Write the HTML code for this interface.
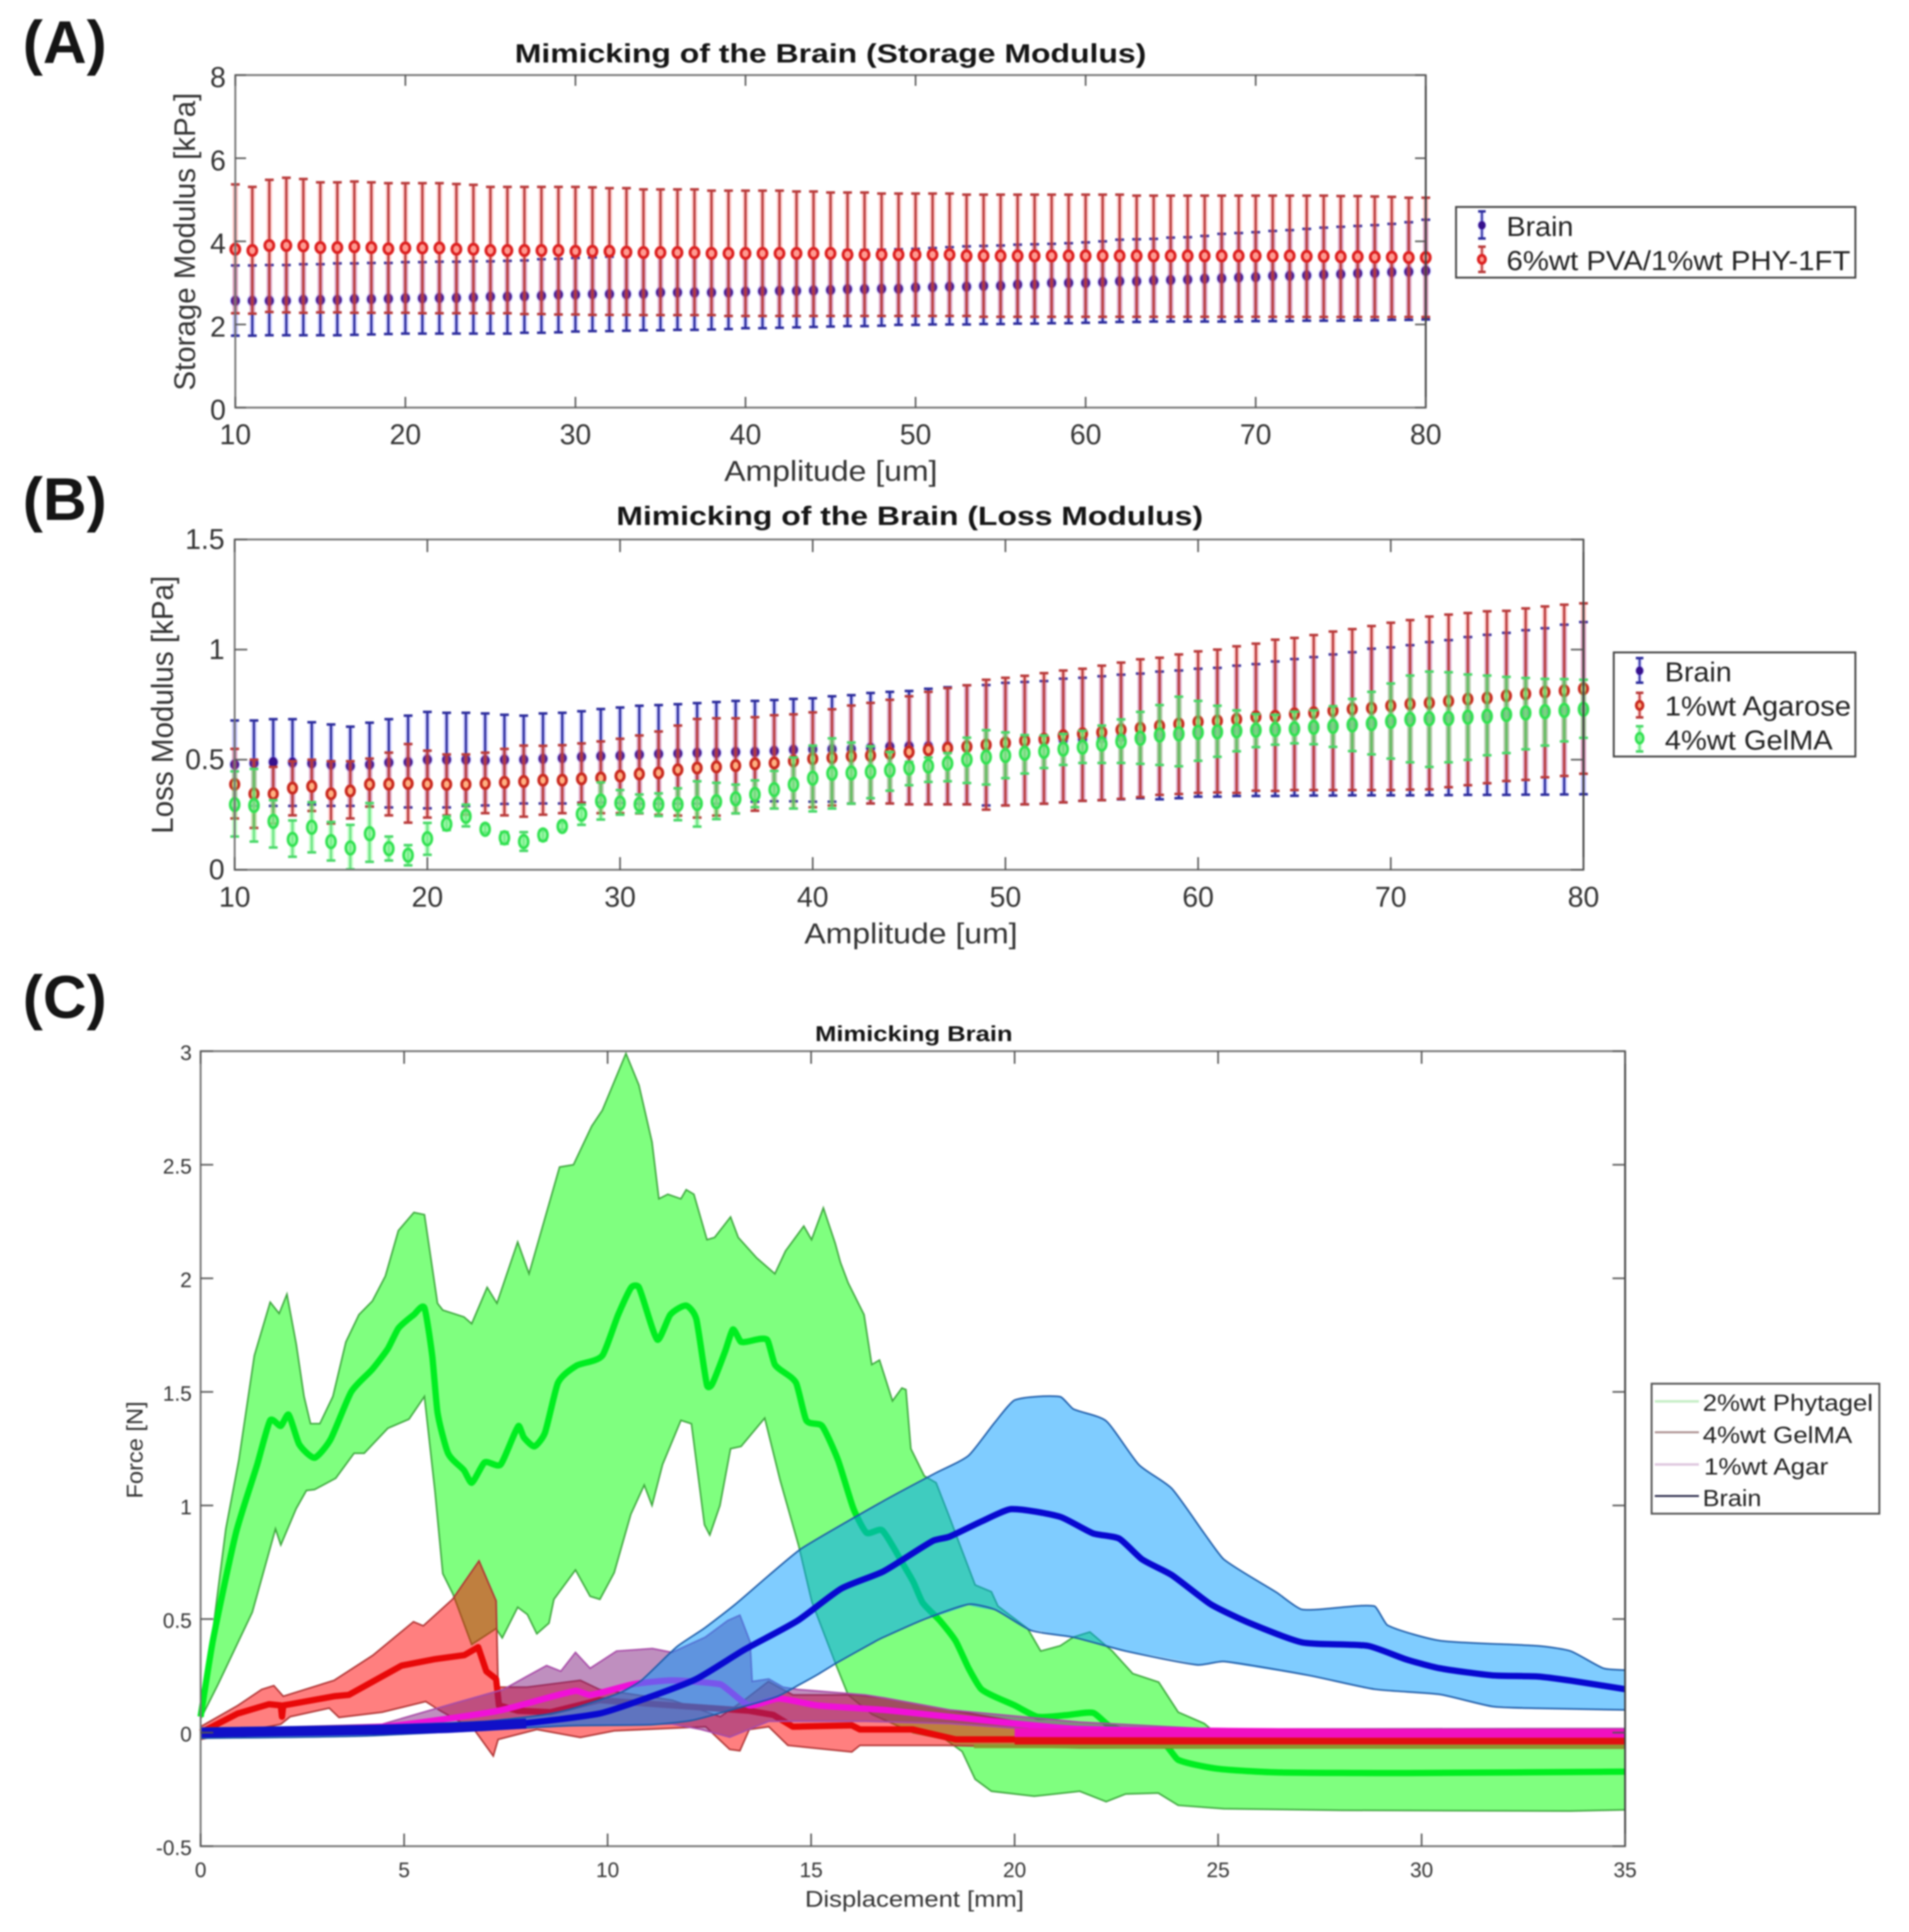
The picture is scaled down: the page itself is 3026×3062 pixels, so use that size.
<!DOCTYPE html>
<html lang="en">
<head>
<meta charset="utf-8">
<title>Mimicking of the Brain</title>
<style>
html,body{margin:0;padding:0;background:#fff;}
svg{display:block;filter:blur(1.3px);font-family:"Liberation Sans",sans-serif;}
</style>
</head>
<body>
<svg id="figure" xmlns="http://www.w3.org/2000/svg" width="3026" height="3062" viewBox="0 0 3026 3062">
<rect x="0" y="0" width="3026" height="3062" fill="#ffffff"/>

<text x="36" y="100" font-size="96" font-weight="700" fill="#151515">(A)</text>
<text x="36" y="824" font-size="96" font-weight="700" fill="#151515">(B)</text>
<text x="36" y="1613" font-size="96" font-weight="700" fill="#151515">(C)</text>

<g id="chart-a">
<text x="816" y="99" font-size="42" font-weight="700" fill="#151515" textLength="1001" lengthAdjust="spacingAndGlyphs">Mimicking of the Brain (Storage Modulus)</text>
<text x="1148" y="762" font-size="45" fill="#333" textLength="338" lengthAdjust="spacingAndGlyphs">Amplitude [um]</text>
<text transform="translate(309,383) rotate(-90)" text-anchor="middle" font-size="47" fill="#333" textLength="472" lengthAdjust="spacingAndGlyphs">Storage Modulus [kPa]</text>
</g>

<g id="chart-b">
<text x="977" y="832" font-size="42" font-weight="700" fill="#151515" textLength="930" lengthAdjust="spacingAndGlyphs">Mimicking of the Brain (Loss Modulus)</text>
<text x="1275" y="1495" font-size="45" fill="#333" textLength="338" lengthAdjust="spacingAndGlyphs">Amplitude [um]</text>
<text transform="translate(274,1117) rotate(-90)" text-anchor="middle" font-size="48" fill="#333" textLength="409" lengthAdjust="spacingAndGlyphs">Loss Modulus [kPa]</text>
</g>

<g id="chart-c">
<text x="1292" y="1650" font-size="34" font-weight="700" fill="#151515" textLength="313" lengthAdjust="spacingAndGlyphs">Mimicking Brain</text>
<text x="1276" y="3022" font-size="36" fill="#333" textLength="347" lengthAdjust="spacingAndGlyphs">Displacement [mm]</text>
<text transform="translate(226,2298) rotate(-90)" text-anchor="middle" font-size="36" fill="#333" textLength="154" lengthAdjust="spacingAndGlyphs">Force [N]</text>
</g>

<g id="legend-a">
<rect x="2308" y="328" width="633" height="112" fill="#fff" stroke="#444" stroke-width="3"/>
<text x="2388" y="374" font-size="44" fill="#222" textLength="106" lengthAdjust="spacingAndGlyphs">Brain</text>
<text x="2388" y="428" font-size="44" fill="#222" textLength="545" lengthAdjust="spacingAndGlyphs">6%wt PVA/1%wt PHY-1FT</text>
</g>

<g id="legend-b">
<rect x="2558" y="1034" width="383" height="165" fill="#fff" stroke="#444" stroke-width="3"/>
<text x="2639" y="1080" font-size="44" fill="#222" textLength="106" lengthAdjust="spacingAndGlyphs">Brain</text>
<text x="2639" y="1134" font-size="44" fill="#222" textLength="295" lengthAdjust="spacingAndGlyphs">1%wt Agarose</text>
<text x="2639" y="1188" font-size="44" fill="#222" textLength="266" lengthAdjust="spacingAndGlyphs">4%wt GelMA</text>
</g>

<g id="legend-c">
<rect x="2618" y="2193" width="361" height="206" fill="#fff" stroke="#555" stroke-width="3"/>
<line x1="2623" x2="2693" y1="2221" y2="2221" stroke="#c6eec6" stroke-width="4"/>
<line x1="2623" x2="2693" y1="2270" y2="2270" stroke="#a98d8d" stroke-width="3"/>
<line x1="2623" x2="2693" y1="2321" y2="2321" stroke="#e0c8e0" stroke-width="4"/>
<line x1="2623" x2="2693" y1="2371" y2="2371" stroke="#2a2a4a" stroke-width="3"/>
<text x="2699" y="2236" font-size="37" fill="#222" textLength="270" lengthAdjust="spacingAndGlyphs">2%wt Phytagel</text>
<text x="2699" y="2287" font-size="37" fill="#222" textLength="237" lengthAdjust="spacingAndGlyphs">4%wt GelMA</text>
<text x="2701" y="2337" font-size="37" fill="#222" textLength="197" lengthAdjust="spacingAndGlyphs">1%wt Agar</text>
<text x="2699" y="2387" font-size="37" fill="#222" textLength="93" lengthAdjust="spacingAndGlyphs">Brain</text>
</g>
</svg>

<script>
/* ===== Shared x categories for panels A and B (amplitude, um) ===== */
const amplitudes = [10,11,12,13,14,15,16,17,18,19,20,21,22,23,24,25,26,27,28,29,30,31,32,33,34,35,36,37,38,39,40,41,42,43,44,45,46,47,48,49,50,51,52,53,54,55,56,57,58,59,60,61,62,63,64,65,66,67,68,69,70,71,72,73,74,75,76,77,78,79,80];

/* ===== Panel A: storage modulus ===== */
const storageXTicks = [10,20,30,40,50,60,70,80];
const storageYTicks = [0,2,4,6,8];
const storageBrainMean = [2.57,2.57,2.57,2.57,2.59,2.59,2.59,2.61,2.61,2.62,2.63,2.63,2.64,2.64,2.65,2.67,2.67,2.68,2.69,2.72,2.72,2.73,2.73,2.73,2.74,2.77,2.77,2.77,2.77,2.77,2.79,2.80,2.81,2.81,2.82,2.83,2.85,2.85,2.86,2.86,2.89,2.90,2.91,2.91,2.93,2.93,2.96,2.96,3.00,3.00,3.00,3.02,3.04,3.04,3.06,3.07,3.08,3.10,3.11,3.13,3.14,3.17,3.17,3.18,3.20,3.21,3.23,3.24,3.26,3.27,3.29];
const storageBrainUpper = [3.42,3.42,3.43,3.43,3.45,3.45,3.47,3.47,3.48,3.48,3.50,3.50,3.51,3.51,3.52,3.52,3.53,3.54,3.57,3.58,3.60,3.61,3.63,3.65,3.66,3.67,3.68,3.69,3.70,3.71,3.72,3.73,3.74,3.75,3.76,3.77,3.78,3.79,3.80,3.81,3.82,3.84,3.86,3.88,3.89,3.90,3.92,3.93,3.94,3.955,3.975,4.00,4.04,4.05,4.06,4.09,4.10,4.13,4.18,4.20,4.22,4.25,4.27,4.30,4.33,4.35,4.37,4.39,4.42,4.46,4.52];
const storageBrainLower = [1.73,1.73,1.74,1.74,1.74,1.74,1.74,1.75,1.76,1.77,1.78,1.78,1.78,1.78,1.78,1.78,1.78,1.80,1.80,1.81,1.83,1.84,1.84,1.85,1.86,1.86,1.87,1.87,1.88,1.89,1.91,1.91,1.92,1.93,1.94,1.95,1.96,1.96,1.97,1.99,1.99,2.00,2.00,2.00,2.01,2.01,2.02,2.02,2.03,2.03,2.04,2.05,2.06,2.06,2.07,2.07,2.07,2.07,2.07,2.07,2.08,2.08,2.08,2.09,2.09,2.09,2.10,2.10,2.11,2.11,2.12];
const storagePvaMean = [3.81,3.78,3.90,3.90,3.89,3.85,3.85,3.87,3.85,3.82,3.84,3.84,3.84,3.81,3.81,3.78,3.78,3.78,3.78,3.78,3.76,3.76,3.76,3.74,3.73,3.73,3.73,3.73,3.71,3.71,3.71,3.71,3.71,3.71,3.71,3.71,3.68,3.68,3.68,3.68,3.68,3.68,3.68,3.65,3.65,3.65,3.65,3.65,3.65,3.65,3.65,3.65,3.65,3.65,3.65,3.65,3.65,3.65,3.65,3.65,3.65,3.65,3.65,3.64,3.64,3.63,3.63,3.62,3.62,3.61,3.61];
const storagePvaUpper = [5.37,5.31,5.48,5.53,5.50,5.42,5.42,5.44,5.42,5.40,5.40,5.40,5.40,5.38,5.36,5.31,5.31,5.31,5.31,5.31,5.31,5.30,5.28,5.28,5.25,5.25,5.25,5.25,5.22,5.22,5.22,5.22,5.22,5.20,5.20,5.175,5.175,5.175,5.15,5.15,5.15,5.15,5.15,5.124,5.124,5.124,5.124,5.124,5.124,5.124,5.124,5.124,5.124,5.10,5.10,5.10,5.10,5.10,5.10,5.10,5.10,5.10,5.10,5.10,5.10,5.09,5.09,5.08,5.07,5.05,5.05];
const storagePvaLower = [2.27,2.26,2.30,2.29,2.28,2.29,2.29,2.28,2.28,2.28,2.28,2.27,2.27,2.27,2.27,2.27,2.27,2.25,2.25,2.24,2.24,2.23,2.23,2.23,2.225,2.225,2.225,2.225,2.225,2.204,2.204,2.204,2.204,2.204,2.204,2.204,2.204,2.204,2.204,2.204,2.204,2.204,2.204,2.204,2.184,2.184,2.184,2.184,2.184,2.184,2.184,2.184,2.184,2.184,2.184,2.184,2.184,2.184,2.184,2.184,2.184,2.184,2.184,2.18,2.18,2.18,2.18,2.18,2.18,2.18,2.18];

/* ===== Panel B: loss modulus ===== */
const lossXTicks = [10,20,30,40,50,60,70,80];
const lossYTicks = [0,0.5,1,1.5];
const lossBrainMean = [.478,.484,.489,.487,.483,.478,.471,.478,.487,.489,.50,.50,.50,.497,.50,.50,.504,.507,.513,.516,.518,.523,.526,.528,.531,.531,.535,.535,.54,.545,.547,.548,.549,.554,.559,.561,.561,.561,.561,.568,.576,.583,.586,.59,.593,.597,.602,.602,.612,.618,.621,.626,.631,.634,.636,.64,.647,.651,.658,.664,.674,.683,.686,.687,.693,.697,.705,.712,.718,.724,.729];
const lossBrainUpper = [.678,.678,.684,.684,.67,.66,.65,.668,.684,.70,.717,.713,.713,.71,.704,.70,.71,.713,.72,.73,.737,.745,.748,.752,.757,.762,.767,.767,.771,.776,.779,.788,.793,.803,.808,.812,.822,.829,.838,.839,.849,.853,.857,.868,.872,.879,.886,.891,.90,.905,.913,.917,.927,.934,.946,.957,.966,.978,.988,1.004,1.01,1.02,1.034,1.043,1.057,1.067,1.076,1.088,1.097,1.113,1.125];
const lossBrainLower = [.28,.29,.29,.29,.296,.29,.29,.287,.283,.283,.279,.283,.29,.292,.299,.301,.301,.301,.305,.305,.303,.30,.30,.30,.30,.30,.305,.309,.311,.311,.309,.309,.301,.301,.301,.297,.297,.297,.297,.292,.292,.297,.30,.306,.313,.316,.32,.325,.32,.325,.332,.332,.335,.335,.335,.336,.337,.337,.338,.338,.338,.338,.339,.339,.34,.34,.34,.341,.341,.342,.343];
const lossAgaroseMean = [.388,.345,.345,.371,.379,.345,.358,.388,.389,.392,.389,.388,.388,.392,.397,.401,.407,.407,.413,.417,.426,.435,.44,.454,.462,.467,.473,.481,.485,.494,.504,.509,.516,.519,.529,.535,.545,.552,.559,.567,.576,.586,.593,.609,.618,.624,.636,.643,.653,.662,.672,.676,.683,.695,.697,.708,.713,.722,.73,.734,.745,.753,.758,.766,.775,.78,.79,.799,.807,.813,.822];
const lossAgaroseUpper = [.549,.50,.467,.493,.50,.493,.493,.505,.532,.571,.541,.524,.524,.532,.549,.564,.563,.566,.574,.583,.595,.61,.628,.655,.685,.688,.688,.693,.702,.706,.715,.729,.746,.758,.772,.788,.808,.825,.838,.863,.872,.881,.893,.905,.913,.927,.941,.956,.963,.978,.992,1.0,1.015,1.027,1.045,1.053,1.066,1.082,1.093,1.107,1.122,1.134,1.15,1.159,1.166,1.174,1.176,1.187,1.196,1.204,1.21];
const lossAgaroseLower = [.233,.19,.21,.247,.267,.21,.233,.287,.247,.214,.237,.247,.25,.257,.247,.241,.25,.257,.303,.257,.257,.256,.249,.246,.237,.246,.256,.268,.278,.278,.284,.292,.30,.301,.301,.297,.297,.297,.297,.273,.292,.297,.30,.306,.313,.316,.322,.33,.34,.344,.349,.351,.349,.359,.358,.362,.362,.362,.362,.362,.362,.364,.365,.375,.384,.393,.403,.408,.42,.426,.436];
const lossGelmaMean = [.296,.292,.22,.138,.193,.128,.099,.164,.096,.066,.141,.207,.243,.184,.145,.128,.158,.197,.253,.312,.303,.297,.297,.297,.301,.309,.322,.342,.364,.387,.416,.438,.44,.445,.452,.462,.471,.483,.50,.512,.519,.529,.538,.548,.557,.571,.583,.597,.612,.617,.624,.626,.631,.634,.637,.64,.647,.651,.658,.664,.674,.683,.686,.687,.693,.697,.705,.712,.718,.724,.729];
const lossGelmaUpper = [.447,.458,.316,.224,.307,.217,.204,.303,.151,.112,.213,.243,.296,.204,.171,.171,.178,.214,.296,.397,.362,.342,.347,.37,.402,.395,.387,.406,.449,.51,.564,.597,.578,.561,.535,.49,.51,.53,.60,.634,.624,.612,.61,.617,.631,.655,.683,.717,.748,.786,.767,.745,.724,.707,.704,.718,.724,.743,.776,.808,.846,.882,.90,.897,.887,.882,.876,.871,.867,.866,.863];
const lossGelmaLower = [.151,.128,.101,.059,.079,.042,.002,.036,.042,.02,.068,.18,.197,.168,.118,.086,.134,.182,.204,.228,.25,.258,.244,.225,.196,.23,.256,.284,.278,.278,.265,.278,.30,.325,.359,.384,.399,.402,.394,.387,.416,.437,.462,.476,.485,.485,.485,.481,.476,.47,.495,.513,.538,.557,.568,.574,.57,.558,.539,.524,.505,.488,.467,.488,.499,.52,.53,.547,.564,.583,.599];

/* ===== Panel C: force vs displacement, shaded bands with mean lines ===== */
const forceXTicks = [0,5,10,15,20,25,30,35];
const forceYTicks = [-0.5,0,0.5,1,1.5,2,2.5,3];

const phytagelUpperX = [0,.27,.62,.94,1.32,1.71,1.93,2.12,2.35,2.54,2.70,2.93,3.25,3.57,3.89,4.22,4.54,4.86,5.24,5.50,5.82,5.95,6.47,6.66,7.04,7.28,7.79,8.07,8.82,9.16,9.61,9.87,10.45,10.77,11.09,11.26,11.48,11.80,11.93,12.12,12.44,12.63,13.02,13.21,13.66,14.11,14.37,14.82,15.01,15.30,15.59,15.72,15.91,16.30,16.49,16.68,17.0,17.23,17.33,17.45,17.78,18.07,18.39,18.71,19.03,19.43,19.59,20.32,20.64,21.12,21.44,21.85,22.4,22.9,23.54,24.02,24.66,24.82,25.5,35];
const phytagelUpperY = [.10,.405,.897,1.2,1.66,1.895,1.845,1.93,1.71,1.48,1.36,1.36,1.48,1.72,1.84,1.90,2.01,2.21,2.29,2.28,1.89,1.86,1.83,1.80,1.96,1.89,2.16,2.02,2.49,2.50,2.67,2.74,2.99,2.85,2.60,2.35,2.37,2.35,2.39,2.37,2.17,2.18,2.27,2.18,2.09,2.02,2.12,2.23,2.17,2.31,2.155,2.07,1.98,1.84,1.62,1.64,1.46,1.517,1.51,1.25,1.13,1.10,.953,.80,.65,.62,.557,.458,.359,.382,.42,.443,.359,.26,.222,.09,.04,.016,-.02,-.03];
const phytagelLowerX = [0,.43,1.27,1.84,1.97,2.35,2.6,2.8,3.32,3.77,4.02,4.6,5.12,5.5,5.76,5.95,6.2,6.66,7.26,7.41,7.79,8.03,8.26,8.56,8.68,9.21,9.57,9.81,10.16,10.57,10.9,11.09,11.35,11.8,12.06,12.38,12.51,12.76,13.02,13.28,13.86,14.24,14.69,15.02,15.62,15.91,16.5,17.5,18.3,18.71,19.03,19.43,20.48,21.6,22.25,22.73,23.53,24.02,25.14,28.04,33.66,35];
const phytagelLowerY = [.06,.213,.53,.897,.826,.987,1.066,1.07,1.12,1.23,1.23,1.34,1.38,1.48,1.06,.70,.61,.388,.458,.417,.552,.52,.435,.482,.587,.716,.60,.587,.704,.961,1.09,1.0,1.18,1.375,1.36,.915,.87,1.0,1.25,1.26,1.385,1.11,.826,.575,.295,.166,.08,.0,-.03,-.083,-.205,-.258,-.28,-.258,-.304,-.27,-.266,-.32,-.335,-.342,-.345,-.34];
const phytagelMeanX = [0,.3,.87,1.39,1.71,1.97,2.16,2.42,2.8,3.19,3.7,4.22,4.6,4.86,5.24,5.5,5.69,5.82,6.08,6.47,6.66,6.98,7.37,7.81,7.94,8.2,8.46,8.78,9.23,9.87,10.26,10.58,10.77,11.22,11.54,11.93,12.18,12.44,12.57,12.89,13.08,13.28,13.92,14.11,14.63,14.88,15.27,15.66,16.04,16.36,16.75,17.33,17.52,17.74,18.15,18.55,18.87,19.19,20,20.56,21.28,21.93,22.33,23.7,24.02,24.98,26.43,29.64,35];
const phytagelMeanY = [.07,.405,.88,1.18,1.375,1.35,1.40,1.27,1.21,1.29,1.5,1.60,1.69,1.78,1.84,1.87,1.66,1.41,1.23,1.155,1.10,1.19,1.18,1.35,1.30,1.26,1.32,1.54,1.615,1.66,1.84,1.96,1.96,1.73,1.84,1.88,1.82,1.53,1.535,1.68,1.775,1.72,1.73,1.62,1.54,1.375,1.35,1.2,.986,.88,.89,.72,.66,.572,.496,.404,.283,.19,.12,.07,.077,.087,.03,-.053,-.12,-.159,-.175,-.178,-.172];

const gelmaUpperX = [0,.91,1.5,1.8,2.03,3.28,4.23,5.23,5.47,6.19,6.84,7.26,7.31,8.02,9.33,9.8,11.58,12.77,13.36,13.95,14.55,16.09,16.78,18.39,20,22,35];
const gelmaUpperY = [.026,.119,.19,.207,.16,.23,.34,.488,.47,.587,.756,.58,.2,.2,.23,.19,.143,.07,.143,.225,.166,.166,.153,.10,.05,.0,-.01];
const gelmaLowerX = [0,1.97,2.2,3.16,3.4,4.46,5.53,5.89,6.72,7.19,7.31,8.26,9.33,10.16,12.41,13,13.25,13.48,13.96,14.43,16.0,16.2,18.32,21.6,35];
const gelmaLowerY = [-.03,.037,.07,.108,.067,.09,.137,.096,.014,-.103,-.03,.014,-.021,.008,.026,-.074,-.08,.014,.026,-.056,-.085,-.056,-.056,-.067,-.068];
const gelmaMeanX = [0,.91,1.68,1.97,2.0,2.03,2.2,3.28,3.64,4.94,5.77,6.48,6.82,7.02,7.26,7.33,7.8,8.6,9.8,11.58,13.48,14.07,14.55,16,16.2,17.5,18.55,21.6,35];
const gelmaMeanY = [0,.084,.125,.12,.07,.12,.125,.16,.166,.295,.324,.341,.376,.27,.236,.12,.096,.09,.143,.12,.096,.078,.026,.032,.014,.014,-.03,-.03,-.03];
const gelmaNoiseX = [19,27,35];
const gelmaNoiseY = [-.06,-.062,-.062];
const gelmaTailX = [20,28,35];
const gelmaTailY = [-.033,-.033,-.033];

const agarUpperX = [0,4.46,6.25,7.44,8.02,8.5,8.85,9.21,9.57,10.22,11.1,11.58,12.4,12.95,13.25,13.5,13.55,13.96,14.31,14.67,16.33,16.78,18.39,21.6,24.8,35];
const agarUpperY = [.014,.037,.13,.19,.248,.295,.27,.353,.283,.359,.37,.353,.42,.493,.517,.40,.225,.236,.20,.19,.166,.153,.10,.046,.016,.018];
const agarLowerX = [0,6.84,11.58,12.3,13,13.96,16.33,18.4,21.6,35];
const agarLowerY = [-.01,.026,.038,.014,-.02,.05,.05,.04,.0,-.015];
const agarMeanX = [0,4.46,7.31,9.21,9.57,10.63,11.58,12.77,12.95,13.48,14.2,15.14,16.78,18.39,21.6,35];
const agarMeanY = [0,.026,.096,.184,.166,.213,.23,.213,.19,.12,.15,.12,.10,.07,.016,-.004];
const agarTailX = [20,28,35];
const agarTailY = [.0,-.003,-.003];

const brainForceUpperX = [0,4,7,8.5,9.02,9.53,10.3,10.83,11.7,12.38,13.13,13.96,14.76,16.78,18.07,18.87,19.51,20,21.12,21.44,22.25,23.05,23.86,24.66,25.14,26.43,27.07,28.84,29.16,30.45,32.86,33.66,34.47,35];
const brainForceUpperY = [.02,.03,.05,.08,.10,.128,.175,.23,.378,.46,.564,.692,.81,1.02,1.144,1.22,1.365,1.464,1.479,1.425,1.372,1.18,1.075,.877,.763,.618,.542,.557,.473,.405,.382,.359,.283,.275];
const brainForceLowerX = [0,4,9.02,11.09,12.07,13.16,14.18,14.7,15.2,15.62,16.56,16.78,17.74,18.87,19.51,20.4,21.44,22.73,24.5,25.14,27.23,28.84,30.45,31.74,32.86,35];
const brainForceLowerY = [-.025,-.015,.03,.035,.054,.106,.16,.21,.26,.306,.40,.42,.496,.565,.542,.45,.42,.359,.298,.313,.252,.191,.168,.115,.107,.10];
const brainForceMeanX = [0,4.46,7.43,9.8,10.99,12.18,13.36,14.67,15.74,16.78,17.99,18.39,19.19,19.92,21.12,21.93,22.57,23.13,23.86,24.82,25.79,27.07,28.68,29.64,30.45,31.74,32.86,33.66,35];
const brainForceMeanY = [0,.014,.032,.084,.154,.236,.365,.493,.634,.71,.844,.862,.93,.984,.95,.877,.854,.763,.694,.565,.481,.397,.382,.321,.283,.252,.247,.229,.191];
const brainStartX = [0,3,6,8];
const brainStartY = [0,.008,.02,.04];

/* ===== Helpers ===== */
const SVGNS = 'http://www.w3.org/2000/svg';
function make(tag, attrs, parent){
  const el = document.createElementNS(SVGNS, tag);
  for (const k in attrs) el.setAttribute(k, attrs[k]);
  parent.appendChild(el);
  return el;
}
function linearScale(d0, d1, r0, r1){
  return function(v){ return r0 + (v - d0) * (r1 - r0) / (d1 - d0); };
}
function toPoints(xs, ys, sx, sy){
  return xs.map(function(x, i){ return [sx(x), sy(ys[i])]; });
}
function straightSegs(pts, first){
  return pts.map(function(p, i){ return (i === 0 ? first : 'L') + p[0].toFixed(1) + ' ' + p[1].toFixed(1); }).join(' ');
}
function smoothSegs(pts, first){
  let d = first + pts[0][0].toFixed(1) + ' ' + pts[0][1].toFixed(1);
  for (let i = 0; i < pts.length - 1; i++){
    const p0 = pts[Math.max(i - 1, 0)], p1 = pts[i], p2 = pts[i + 1], p3 = pts[Math.min(i + 2, pts.length - 1)];
    const dx = p2[0] - p1[0];
    const a = Math.min(1, dx / Math.max(Math.abs(p2[0] - p0[0]), 1) * 1.2);
    const b = Math.min(1, dx / Math.max(Math.abs(p3[0] - p1[0]), 1) * 1.2);
    const c1x = p1[0] + (p2[0] - p0[0]) / 6 * a, c1y = p1[1] + (p2[1] - p0[1]) / 6 * a;
    const c2x = p2[0] - (p3[0] - p1[0]) / 6 * b, c2y = p2[1] - (p3[1] - p1[1]) / 6 * b;
    d += ' C' + c1x.toFixed(1) + ' ' + c1y.toFixed(1) + ' ' + c2x.toFixed(1) + ' ' + c2y.toFixed(1) + ' ' + p2[0].toFixed(1) + ' ' + p2[1].toFixed(1);
  }
  return d;
}

const fig = document.getElementById('figure');

function drawAxes(parent, prefix, box, sx, sy, xTicks, yTicks, o){
  const g = make('g', {}, parent);
  
  
  const frame = make('rect', {x: box.l, y: box.t, width: box.r - box.l, height: box.b - box.t, fill: 'none', stroke: '#777', 'stroke-width': 3}, g);
  
  
  const edgeR = make('line', {x1: box.r, x2: box.r, y1: box.t, y2: box.b, stroke: '#444', 'stroke-width': 3}, g);
  
  
  xTicks.forEach(function(v){
    const x = sx(v);
    const t1 = make('line', {x1: x, x2: x, y1: box.b, y2: box.b - o.tick, stroke: '#555', 'stroke-width': 2.5}, g);
    
    
    const t2 = make('line', {x1: x, x2: x, y1: box.t, y2: box.t + o.tick, stroke: '#555', 'stroke-width': 2.5}, g);
    
    
    const lab = make('text', {x: x, y: o.xLabelY, 'text-anchor': 'middle', 'font-size': o.font, fill: '#333'}, g);
    lab.textContent = String(v);
    
    
  });
  yTicks.forEach(function(v){
    const y = sy(v);
    const t1 = make('line', {x1: box.l, x2: box.l + o.tick, y1: y, y2: y, stroke: '#555', 'stroke-width': 2.5}, g);
    
    
    const t2 = make('line', {x1: box.r, x2: box.r - o.tick, y1: y, y2: y, stroke: '#555', 'stroke-width': 2.5}, g);
    
    
    const lab = make('text', {x: o.yLabelX, y: y + o.yLabelDy, 'text-anchor': 'end', 'font-size': o.font, fill: '#333'}, g);
    lab.textContent = String(v);
    
    
  });
}

function drawMarker(parent, cx, cy, st, scale){
  const halo = make('ellipse', {cx: cx, cy: cy, rx: (st.rx + 3) * scale, ry: (st.ry + 3) * scale, fill: st.halo, opacity: .3}, parent);
  
  
  const m = make('ellipse', {cx: cx, cy: cy, rx: st.rx * scale, ry: st.ry * scale, fill: st.fill, 'fill-opacity': st.fillOpacity, stroke: st.ring, 'stroke-width': st.ringW}, parent);
  
  
}

function drawErrorBar(parent, x, yMean, yUp, yLow, st, capW, scale){
  const halo = make('line', {x1: x, x2: x, y1: yUp, y2: yLow, stroke: st.halo, 'stroke-width': 9 * scale, opacity: .35}, parent);
  
  
  const stem = make('line', {x1: x, x2: x, y1: yUp, y2: yLow, stroke: st.core, 'stroke-opacity': st.coreOpacity, 'stroke-width': 3.5 * scale}, parent);
  
  
  const capU = make('line', {x1: x - capW, x2: x + capW, y1: yUp, y2: yUp, stroke: st.core, 'stroke-width': 4}, parent);
  
  
  const capL = make('line', {x1: x - capW, x2: x + capW, y1: yLow, y2: yLow, stroke: st.core, 'stroke-width': 4}, parent);
  
  
  drawMarker(parent, x, yMean, st, scale);
}

function drawErrorSeries(parent, xs, means, uppers, lowers, st, sx, sy){
  const g = make('g', {}, parent);
  
  
  xs.forEach(function(v, i){
    drawErrorBar(g, sx(v), sy(means[i]), sy(uppers[i]), sy(lowers[i]), st, 7, 1);
  });
}

function drawBand(parent, name, upX, upY, loX, loY, fill, alpha, edge, sx, sy, smooth){
  const segs = smooth ? smoothSegs : straightSegs;
  const g = make('g', {}, parent);
  
  
  const up = toPoints(upX, upY, sx, sy);
  const lo = toPoints(loX, loY, sx, sy);
  const d = segs(up, 'M') + ' ' + segs(lo.slice().reverse(), 'L') + ' Z';
  const area = make('path', {d: d, fill: fill, 'fill-opacity': alpha, stroke: 'none'}, g);
  
  
  const e1 = make('path', {d: segs(up, 'M'), fill: 'none', stroke: edge, 'stroke-width': 2.5}, g);
  
  
  const e2 = make('path', {d: segs(lo, 'M'), fill: 'none', stroke: edge, 'stroke-width': 2.5}, g);
  
  
}
function drawMeanLine(parent, name, xs, ys, color, width, sx, sy, smooth){
  const segs = smooth ? smoothSegs : straightSegs;
  const l = make('path', {d: segs(toPoints(xs, ys, sx, sy), 'M'), fill: 'none', stroke: color, 'stroke-width': width, 'stroke-linejoin': 'round'}, parent);
  
  
}

/* ===== Series styles ===== */
const brainStyle = {name: 'brain', core: '#2c2c9c', coreOpacity: 1, halo: '#7f7fff', fill: '#36108c', fillOpacity: 1, ring: '#36108c', ringW: 2, rx: 6, ry: 7};
const pvaStyle = {name: 'pva', core: '#b83a3a', coreOpacity: 1, halo: '#ff7070', fill: '#ff9a90', fillOpacity: 1, ring: '#dc2020', ringW: 4.5, rx: 7, ry: 8};
const agaroseStyle = {name: 'agarose', core: '#b83a3a', coreOpacity: 1, halo: '#ff7070', fill: '#ffb080', fillOpacity: 1, ring: '#c82a20', ringW: 4.5, rx: 6.5, ry: 8};
const gelmaStyle = {name: 'gelma', core: '#48d868', coreOpacity: .7, halo: '#60ff70', fill: '#90f0a0', fillOpacity: .4, ring: '#30e050', ringW: 4, rx: 7, ry: 10};

/* ===== Chart A ===== */
(function(){
  const parent = document.getElementById('chart-a');
  const box = {l: 373, r: 2260, t: 119, b: 646};
  const sx = linearScale(10, 80, box.l, box.r);
  const sy = linearScale(0, 8, box.b, box.t);
  drawErrorSeries(parent, amplitudes, storageBrainMean, storageBrainUpper, storageBrainLower, brainStyle, sx, sy);
  drawErrorSeries(parent, amplitudes, storagePvaMean, storagePvaUpper, storagePvaLower, pvaStyle, sx, sy);
  drawAxes(parent, 'chart-a', box, sx, sy, storageXTicks, storageYTicks, {tick: 17, font: 45, xLabelY: 704, yLabelX: 358, yLabelDy: 19});
})();

/* ===== Chart B ===== */
(function(){
  const parent = document.getElementById('chart-b');
  const box = {l: 372, r: 2510, t: 855, b: 1378.5};
  const sx = linearScale(10, 80, box.l, box.r);
  const sy = linearScale(0, 1.5, box.b, box.t);
  drawErrorSeries(parent, amplitudes, lossBrainMean, lossBrainUpper, lossBrainLower, brainStyle, sx, sy);
  drawErrorSeries(parent, amplitudes, lossAgaroseMean, lossAgaroseUpper, lossAgaroseLower, agaroseStyle, sx, sy);
  drawErrorSeries(parent, amplitudes, lossGelmaMean, lossGelmaUpper, lossGelmaLower, gelmaStyle, sx, sy);
  drawAxes(parent, 'chart-b', box, sx, sy, lossXTicks, lossYTicks, {tick: 20, font: 45, xLabelY: 1437, yLabelX: 356, yLabelDy: 15});
})();

/* ===== Chart C ===== */
(function(){
  const parent = document.getElementById('chart-c');
  const box = {l: 318, r: 2576, t: 1666, b: 2926};
  const sx = linearScale(0, 35, box.l, box.r);
  const sy = linearScale(-0.5, 3, box.b, box.t);
  drawBand(parent, 'phytagel', phytagelUpperX, phytagelUpperY, phytagelLowerX, phytagelLowerY, '#00ff00', .5, '#3fa83f', sx, sy, false);
  drawMeanLine(parent, 'phytagel', phytagelMeanX, phytagelMeanY, '#00ee20', 10, sx, sy, true);
  drawBand(parent, 'gelma', gelmaUpperX, gelmaUpperY, gelmaLowerX, gelmaLowerY, '#ff0000', .5, '#b03535', sx, sy, false);
  drawMeanLine(parent, 'gelma', gelmaMeanX, gelmaMeanY, '#e80808', 10, sx, sy, false);
  drawMeanLine(parent, 'gelma-noise', gelmaNoiseX, gelmaNoiseY, '#8a9a30', 6, sx, sy, false);
  drawMeanLine(parent, 'gelma-tail', gelmaTailX, gelmaTailY, '#e01010', 14, sx, sy, false);
  drawBand(parent, 'agar', agarUpperX, agarUpperY, agarLowerX, agarLowerY, '#802080', .5, '#a84ca8', sx, sy, false);
  drawMeanLine(parent, 'agar', agarMeanX, agarMeanY, '#f010d8', 10, sx, sy, true);
  drawMeanLine(parent, 'agar-tail', agarTailX, agarTailY, '#f010c0', 14, sx, sy, false);
  drawBand(parent, 'brain-force', brainForceUpperX, brainForceUpperY, brainForceLowerX, brainForceLowerY, '#0099ff', .5, '#1c5aa8', sx, sy, true);
  drawMeanLine(parent, 'brain-force', brainForceMeanX, brainForceMeanY, '#0808d0', 10, sx, sy, true);
  drawMeanLine(parent, 'brain-start', brainStartX, brainStartY, '#1010c8', 16, sx, sy, true);
  drawAxes(parent, 'chart-c', box, sx, sy, forceXTicks, forceYTicks, {tick: 20, font: 33, xLabelY: 2975, yLabelX: 304, yLabelDy: 14});
})();

/* ===== Legend keys for A and B ===== */
(function(){
  const la = document.getElementById('legend-a');
  drawErrorBar(la, 2349, 357, 335, 378, brainStyle, 6, .8);
  drawErrorBar(la, 2349, 411, 391, 431, pvaStyle, 6, .8);
  const lb = document.getElementById('legend-b');
  drawErrorBar(lb, 2599, 1063, 1043, 1082, brainStyle, 6, .8);
  drawErrorBar(lb, 2599, 1118, 1098, 1137, agaroseStyle, 6, .8);
  drawErrorBar(lb, 2599, 1170, 1151, 1191, gelmaStyle, 6, .8);
})();
</script>
</body>
</html>
